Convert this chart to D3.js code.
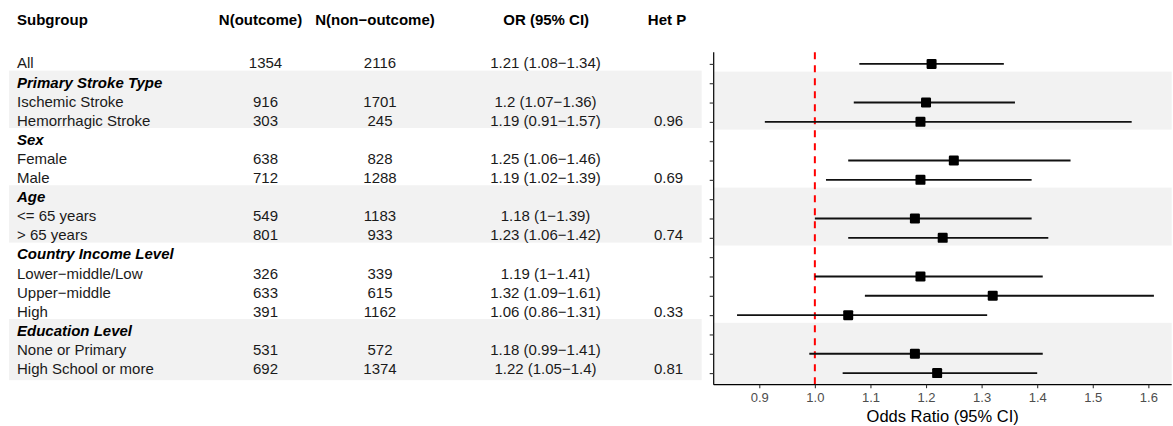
<!DOCTYPE html>
<html>
<head>
<meta charset="utf-8">
<script src="https://cdn.jsdelivr.net/npm/d3@7/dist/d3.min.js"></script>
<style>
  html, body { margin: 0; padding: 0; background: #fff; }
  svg { display: block; font-family: "Liberation Sans", Arial, sans-serif; }
</style>
</head>
<body>
<svg id="chart" width="1173" height="426"></svg>
<script>
// Subgroup rows (group header rows have no numbers)
const subgroups = ["All", "Primary Stroke Type", "Ischemic Stroke", "Hemorrhagic Stroke",
  "Sex", "Female", "Male", "Age", "<= 65 years", "> 65 years",
  "Country Income Level", "Lower\u2212middle/Low", "Upper\u2212middle", "High",
  "Education Level", "None or Primary", "High School or more"];
const isGroupHeader = [false, true, false, false, true, false, false, true, false, false,
  true, false, false, false, true, false, false];
const nOutcome = [1354, null, 916, 303, null, 638, 712, null, 549, 801, null, 326, 633, 391, null, 531, 692];
const nNonOutcome = [2116, null, 1701, 245, null, 828, 1288, null, 1183, 933, null, 339, 615, 1162, null, 572, 1374];
const oddsRatio = [1.21, null, 1.2, 1.19, null, 1.25, 1.19, null, 1.18, 1.23, null, 1.19, 1.32, 1.06, null, 1.18, 1.22];
const ciLower = [1.08, null, 1.07, 0.91, null, 1.06, 1.02, null, 1, 1.06, null, 1, 1.09, 0.86, null, 0.99, 1.05];
const ciUpper = [1.34, null, 1.36, 1.57, null, 1.46, 1.39, null, 1.39, 1.42, null, 1.41, 1.61, 1.31, null, 1.41, 1.4];
const hetP = ["", "", "", "0.96", "", "", "0.69", "", "", "0.74", "", "", "", "0.33", "", "", "0.81"];
// Shaded groups: [first row, last row]
const shadedGroups = [[1, 3], [7, 9], [14, 16]];
const columnHeaders = ["Subgroup", "N(outcome)", "N(non\u2212outcome)", "OR (95% CI)", "Het P"];
const xTicks = [0.9, 1.0, 1.1, 1.2, 1.3, 1.4, 1.5, 1.6];

const svg = d3.select("#chart");
const idx = d3.range(subgroups.length);
const bandFill = "#f2f2f2";
const textColor = "#1a1a1a";

// ---------- Table ----------
const tableY = d3.scalePoint().domain(idx).range([63, 368.7]);
const tStep = tableY.step();
const lastRow = subgroups.length - 1;

const tableBands = svg.append("g");
shadedGroups.forEach(([a, b]) => {
  const y0 = tableY(a) - 0.6 * tStep;
  const y1 = tableY(b) + (b === lastRow ? 0.6 : 0.4) * tStep;
  tableBands.append("rect").attr("x", 9).attr("y", y0).attr("width", 692.7).attr("height", y1 - y0).attr("fill", bandFill);
});

const colX = { sub: 17, nOut: 265.5, nNon: 380, or: 545.5, het: 668.5 };
const headerX = [17, 260.5, 375, 546.2, 667];
const headerAnchor = ["start", "middle", "middle", "middle", "middle"];

svg.append("g").selectAll("text").data(columnHeaders).join("text")
  .attr("x", (d, i) => headerX[i]).attr("y", 25)
  .attr("text-anchor", (d, i) => headerAnchor[i])
  .attr("font-size", 15).attr("font-weight", "bold").attr("fill", "#000")
  .text(d => d);

const fmtCI = i => `${oddsRatio[i]} (${ciLower[i]}\u2212${ciUpper[i]})`;

const rows = svg.append("g").selectAll("g").data(idx).join("g")
  .attr("transform", i => `translate(0,${tableY(i)})`);

rows.append("text")
  .attr("x", colX.sub).attr("dy", "0.36em")
  .attr("font-size", 15)
  .attr("font-weight", i => isGroupHeader[i] ? "bold" : "normal")
  .attr("font-style", i => isGroupHeader[i] ? "italic" : "normal")
  .attr("fill", i => isGroupHeader[i] ? "#000" : textColor)
  .text(i => subgroups[i]);

const valueCols = [
  [colX.nOut, i => nOutcome[i] == null ? "" : String(nOutcome[i])],
  [colX.nNon, i => nNonOutcome[i] == null ? "" : String(nNonOutcome[i])],
  [colX.or, i => oddsRatio[i] == null ? "" : fmtCI(i)],
  [colX.het, i => hetP[i]]
];
valueCols.forEach(([x, fn]) => {
  rows.append("text")
    .attr("x", x).attr("dy", "0.36em").attr("text-anchor", "middle")
    .attr("font-size", 15).attr("fill", textColor)
    .text(fn);
});

// ---------- Forest plot ----------
const panel = { left: 713.7, right: 1171.7, top: 52.3, bottom: 384.7 };
const x = d3.scaleLinear().domain([0.818, 1.642]).range([panel.left, panel.right]);
const y = d3.scalePoint().domain(idx).range([panel.top, panel.bottom]).padding(0.6);
const pStep = y.step();

const plot = svg.append("g");
shadedGroups.forEach(([a, b]) => {
  const y0 = y(a) - 0.6 * pStep;
  const y1 = Math.min(panel.bottom, y(b) + (b === lastRow ? 0.6 : 0.4) * pStep);
  plot.append("rect").attr("x", panel.left).attr("y", y0)
    .attr("width", panel.right - panel.left).attr("height", y1 - y0).attr("fill", bandFill);
});

// Reference line at OR = 1
plot.append("line")
  .attr("x1", x(1)).attr("x2", x(1)).attr("y1", panel.top).attr("y2", panel.bottom)
  .attr("stroke", "#ff0000").attr("stroke-width", 2).attr("stroke-dasharray", "7,6");

const est = idx.filter(i => oddsRatio[i] != null);

plot.append("g").selectAll("line").data(est).join("line")
  .attr("x1", i => x(ciLower[i])).attr("x2", i => x(ciUpper[i]))
  .attr("y1", i => y(i)).attr("y2", i => y(i))
  .attr("stroke", "#111").attr("stroke-width", 1.9);

const sq = 10;
plot.append("g").selectAll("rect").data(est).join("rect")
  .attr("x", i => x(oddsRatio[i]) - sq / 2).attr("y", i => y(i) - sq / 2)
  .attr("width", sq).attr("height", sq).attr("rx", 1.2)
  .attr("fill", "#000");

// Axes
const yAxis = svg.append("g").attr("transform", `translate(${panel.left},0)`)
  .call(d3.axisLeft(y).tickFormat("").tickSize(4).tickSizeOuter(0));
yAxis.select(".domain").attr("stroke", "#000").attr("stroke-width", 1.2)
  .attr("d", `M0,${panel.top}V${panel.bottom}`);
yAxis.selectAll(".tick line").attr("stroke", "#333").attr("stroke-width", 1.1);

const xAxis = svg.append("g").attr("transform", `translate(0,${panel.bottom})`)
  .call(d3.axisBottom(x).tickValues(xTicks).tickFormat(d3.format(".1f")).tickSize(3.5).tickPadding(4.5).tickSizeOuter(0));
xAxis.select(".domain").attr("stroke", "#000").attr("stroke-width", 1.2)
  .attr("d", `M${panel.left},0H${panel.right}`);
xAxis.selectAll(".tick line").attr("stroke", "#333").attr("stroke-width", 1.1);
xAxis.selectAll(".tick text").attr("fill", "#4d4d4d").attr("font-size", 13)
  .attr("font-family", "'Liberation Sans', Arial, sans-serif");

svg.append("text")
  .attr("x", (panel.left + panel.right) / 2).attr("y", 421.5)
  .attr("text-anchor", "middle").attr("font-size", 16.5).attr("fill", "#000")
  .text("Odds Ratio (95% CI)");
</script>
</body>
</html>
